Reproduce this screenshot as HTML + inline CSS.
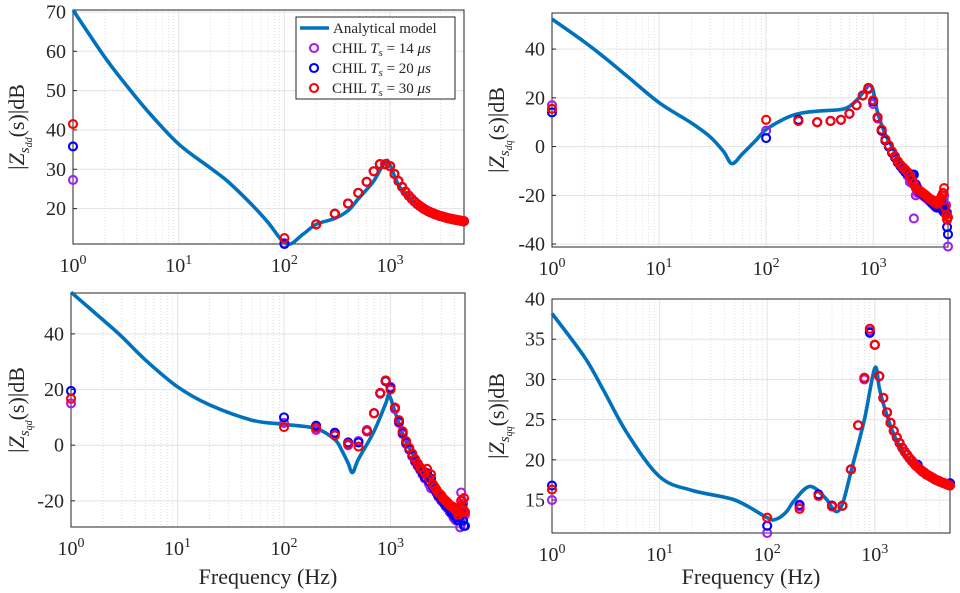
<!DOCTYPE html>
<html><head><meta charset="utf-8"><style>
html,body{margin:0;padding:0;background:#fff;}
svg{display:block;font-family:"Liberation Serif",serif;}
</style></head><body>
<svg id="fig" width="960" height="593" viewBox="0 0 960 593" xmlns="http://www.w3.org/2000/svg"></svg>
<script>
const freqs=[1,100,200,300,400,500,600,700,800,900,1000,1100,1200,1300,1400,1500,1600,1700,1800,1900,2000,2100,2200,2300,2400,2500,2600,2700,2800,2900,3000,3100,3200,3300,3400,3500,3600,3700,3800,3900,4000,4100,4200,4300,4400,4500,4600,4700,4800,4900,5000];
const xTickExps=[0,1,2,3];
// dd
const ddModelF=[1,2,3,5,10,20,30,50,70,105,150,200,300,400,500,700,900,1000,1200,1500,2000,3000,5000];
const ddModelDb=[70.5,58.5,52.3,45,36.4,30.3,26.6,20.8,16.5,11,13.5,16,17.5,19.5,22.5,27,32,31,26,23,20.3,18.1,16.8];
const ddRed=[41.5,12.5,16,18.7,21.3,24,26.8,29.5,31.3,31.3,30.8,28.8,27,25.5,24.3,23.3,22.5,21.8,21.2,20.7,20.3,19.9,19.6,19.3,19.1,18.9,18.7,18.5,18.4,18.2,18.1,18.0,17.9,17.8,17.7,17.6,17.5,17.45,17.4,17.3,17.25,17.2,17.15,17.1,17.05,17.0,16.95,16.9,16.85,16.8,16.8];
const ddBlue=[35.8,11.0,16,18.7,21.3,24,26.8,29.5,31.3,31.3,30.8,28.8,27,25.5,24.3,23.3,22.5,21.8,21.2,20.7,20.3,19.9,19.6,19.3,19.1,18.9,18.7,18.5,18.4,18.2,18.1,18.0,17.9,17.8,17.7,17.6,17.5,17.45,17.4,17.3,17.25,17.2,17.15,17.1,17.05,17.0,16.95,16.9,16.85,16.8,16.8];
const ddPurple=[27.3,11.2,16,18.7,21.3,24,26.8,29.5,31.3,31.3,30.8,28.8,27,25.5,24.3,23.3,22.5,21.8,21.2,20.7,20.3,19.9,19.6,19.3,19.1,18.9,18.7,18.5,18.4,18.2,18.1,18.0,17.9,17.8,17.7,17.6,17.5,17.45,17.4,17.3,17.25,17.2,17.15,17.1,17.05,17.0,16.95,16.9,16.85,16.8,16.8];
const ddTicks=[20,30,40,50,60,70];
// dq
const dqModelF=[1,2,3,5,10,20,30,40,48,60,80,100,150,200,300,500,600,700,800,900,950,1000,1100,1300,1500,2000,3000,4000,5000];
const dqModelDb=[52.3,43,37,29,18,9.7,4,-2,-7,-3,2.5,7,11.5,13.5,14.5,15.2,16.5,19,22,25,25,23,14,5,0,-10,-19,-23,-25];
const dqRed=[15.5,11,10.5,10,10.5,11,13.5,17,21,24,19,12,7,3,0.5,-2,-4,-6,-7.5,-8.5,-9.5,-10.5,-12,-13.5,-15,-17,-17.5,-18,-18.5,-19,-19.5,-20,-20.5,-21,-21.5,-22,-22,-22.5,-23,-23.5,-23,-22.5,-22,-21,-20,-19,-17,-25,-28,-30,-29];
const dqBlue=[14,3.5,11,10,10.5,11,13.5,17,21,24,18.5,12,6.5,2.5,0,-2.5,-4.5,-6.5,-8,-9,-10.5,-11,-12,-11.5,-11.5,-15.5,-17,-18.5,-19,-19.5,-20,-20.5,-21,-21.5,-22,-23,-23.5,-24,-24.5,-25,-25,-24,-23,-22.5,-24,-26,-27,-25,-27,-33,-36];
const dqPurple=[17,6.5,10.5,10,10.5,11,13.5,17,21,23.5,17.5,11.5,6.5,2.5,0,-2.5,-4.5,-6.5,-8,-9.5,-10.5,-12,-14.5,-15,-29.5,-20,-19,-18.5,-19,-20,-20.5,-21,-21.5,-22,-22.5,-23,-23.5,-24,-24.5,-24,-23.5,-23,-24,-25,-26,-22,-20,-27,-24,-27,-41];
const dqTicks=[-40,-20,0,20,40];
// qd
const qdModelF=[1,2,3,5,10,20,50,100,200,300,350,400,440,500,700,900,970,1100,1300,1500,2000,3000,4000,5000];
const qdModelDb=[55,45,39,30.6,21,14.5,9,7.5,6,2,-2,-6.5,-9.8,-5,5,15,18,12,4,-1,-9,-17,-23,-27];
const qdRed=[16.7,6.5,6.3,3.5,0.5,-0.5,5,11.5,18.8,23.3,20,13.5,9,5,1.5,-1,-3,-5,-6.5,-8,-9,-10,-8.5,-12,-10.5,-14,-15,-16,-17,-17.5,-18,-19,-19.5,-20,-20.5,-21,-21.5,-22,-22,-22.5,-23,-23.5,-24,-25,-24,-22,-20,-24,-23,-19,-24];
const qdBlue=[19.5,10,7,4.5,1,1,5,11.5,18.8,23,20.5,13.5,8.5,4.5,1,-1.5,-3.5,-5.5,-7,-8.5,-10,-11.5,-10,-13,-12,-15,-16,-17,-18,-18.5,-19.5,-20,-21,-21.5,-22,-22.5,-23,-24,-24.5,-25,-25.5,-26,-25,-27,-26,-25,-24,-22,-27,-29,-29];
const qdPurple=[15,8,5.5,4,0,1.5,5.5,11.5,18.5,23,21,13,8,4,0.5,-1.5,-4,-6,-7.5,-9,-10.5,-12,-11,-14,-15.5,-15,-16,-17,-18.5,-19,-20,-20.5,-21,-22,-22.5,-23,-24,-24.5,-25,-26,-26.5,-27,-26,-25,-27,-29.5,-17,-20,-21,-24,-25];
const qdTicks=[-20,0,20,40];
// qq
const qqModelF=[1,2,3,5,10,20,50,100,120,150,180,250,350,430,500,600,800,1000,1100,1200,1500,2000,3000,5000];
const qqModelDb=[38.2,32.8,28.7,23.3,17.9,16.2,15,12.8,12.6,13.5,15,16.7,15.2,13.6,14.5,18.5,25,31.4,29,27,23.2,20.3,18.5,16.9];
const qqRed=[16.3,12.8,13.9,15.5,14.2,14.3,18.8,24.3,30.2,36.3,34.3,30.4,27.7,25.9,24.6,23.6,22.8,22.1,21.5,21.0,20.6,20.2,19.9,19.6,19.3,19.1,18.9,18.7,18.5,18.4,18.2,18.1,18.0,17.9,17.8,17.7,17.6,17.5,17.45,17.4,17.3,17.25,17.2,17.15,17.1,17.05,17.0,16.95,16.9,16.85,16.8];
const qqBlue=[16.8,11.8,14.4,15.7,14.3,14.3,18.8,24.3,30.2,35.8,34.3,30.4,27.7,25.9,24.6,23.6,22.8,22.1,21.5,21.0,20.6,20.2,19.9,19.6,19.3,19.4,18.9,18.7,18.5,18.4,18.2,18.1,18.0,17.9,17.8,17.7,17.6,17.5,17.45,17.4,17.3,17.25,17.2,17.15,17.1,17.05,17.0,16.95,16.9,17.0,17.1];
const qqPurple=[15,10.9,14.2,15.6,14.3,14.3,18.8,24.3,30.0,36.0,34.3,30.4,27.7,25.9,24.6,23.6,22.8,22.1,21.5,21.0,20.6,20.2,19.9,19.6,19.3,19.1,18.9,18.7,18.5,18.4,18.2,18.1,18.0,17.9,17.8,17.7,17.6,17.5,17.45,17.4,17.3,17.25,17.2,17.15,17.1,17.05,17.0,16.95,16.9,16.85,16.8];
const qqTicks=[15,20,25,30,35,40];

const NS="http://www.w3.org/2000/svg";
const svg=document.getElementById('fig');
function mk(tag,attrs,parent){const e=document.createElementNS(NS,tag);for(const k in attrs)e.setAttribute(k,attrs[k]);(parent||svg).appendChild(e);return e;}
const COL={purple:'#a020f0',blue:'#0000ff',red:'#ff0000',line:'#0072bd'};

const panels=[
 {key:'dd',x0:73,x1:464,top:10,bot:244,ymin:11,ymax:70.5,ticks:ddTicks,mf:ddModelF,md:ddModelDb,r:ddRed,b:ddBlue,p:ddPurple,lx:24,xlabel:false,legend:true},
 {key:'dq',x0:552,x1:948,top:13,bot:247,ymin:-41.2,ymax:54.8,ticks:dqTicks,mf:dqModelF,md:dqModelDb,r:dqRed,b:dqBlue,p:dqPurple,lx:504,xlabel:false},
 {key:'qd',x0:71,x1:465,top:293,bot:527,ymin:-29.4,ymax:54.7,ticks:qdTicks,mf:qdModelF,md:qdModelDb,r:qdRed,b:qdBlue,p:qdPurple,lx:24,xlabel:true},
 {key:'qq',x0:552,x1:950,top:299,bot:533,ymin:10.9,ymax:40,ticks:qqTicks,mf:qqModelF,md:qqModelDb,r:qqRed,b:qqBlue,p:qqPurple,lx:504,xlabel:true}
];
const LMAX=Math.log10(5000);

panels.forEach(P=>{
 const g=mk('g',{});
 
 
 const xs=f=>P.x0+Math.log10(f)/LMAX*(P.x1-P.x0);
 const ys=v=>P.bot-(v-P.ymin)/(P.ymax-P.ymin)*(P.bot-P.top);
 for(let d=0;d<4;d++)for(let m=2;m<=9;m++){const f=m*Math.pow(10,d);if(f>5000)continue;const x=xs(f);
  const l=mk('line',{x1:x,x2:x,y1:P.top,y2:P.bot,stroke:'#d0d0d0','stroke-width':0.7,'stroke-dasharray':'1,2'},g);
  
  }
 xTickExps.forEach(e=>{const x=xs(Math.pow(10,e));
  const l=mk('line',{x1:x,x2:x,y1:P.top,y2:P.bot,stroke:'#e3e3e3','stroke-width':1},g);
  
  
  const t=mk('text',{x:x,y:P.bot+28,'font-size':20,'text-anchor':'middle',fill:'#262626'},g);
  
  
  t.appendChild(document.createTextNode('10'));
  const s=mk('tspan',{'font-size':14,dy:-8},t);s.textContent=String(e);
 });
 P.ticks.forEach(v=>{const y=ys(v);
  const l=mk('line',{x1:P.x0,x2:P.x1,y1:y,y2:y,stroke:'#e3e3e3','stroke-width':1},g);
  
  
  const tk=mk('line',{x1:P.x0,x2:P.x0+4,y1:y,y2:y,stroke:'#262626','stroke-width':1},g);
  
  
  const t=mk('text',{x:P.x0-7,y:y+6.5,'font-size':20,'text-anchor':'end',fill:'#262626'},g);
  
  
  t.textContent=String(v);
 });
 const box=mk('rect',{x:P.x0,y:P.top,width:P.x1-P.x0,height:P.bot-P.top,fill:'none',stroke:'#262626','stroke-width':1},g);
 
 
 const pts=P.mf.map((f,i)=>[xs(f),ys(P.md[i])]);
 let d='M'+pts[0][0].toFixed(1)+','+pts[0][1].toFixed(1);
 for(let i=0;i<pts.length-1;i++){const p0=pts[Math.max(0,i-1)],p1=pts[i],p2=pts[i+1],p3=pts[Math.min(pts.length-1,i+2)];
  const c1=[p1[0]+(p2[0]-p0[0])/6,p1[1]+(p2[1]-p0[1])/6],c2=[p2[0]-(p3[0]-p1[0])/6,p2[1]-(p3[1]-p1[1])/6];
  d+=' C'+c1.map(n=>n.toFixed(1)).join(',')+' '+c2.map(n=>n.toFixed(1)).join(',')+' '+p2[0].toFixed(1)+','+p2[1].toFixed(1);}
 const path=mk('path',{d:d,fill:'none',stroke:COL.line,'stroke-width':3.6,'stroke-linejoin':'round'},g);
 
 
 [['purple',P.p,'chil-14us'],['blue',P.b,'chil-20us'],['red',P.r,'chil-30us']].forEach(([c,arr,nm])=>{
  arr.forEach((v,i)=>{const m=mk('circle',{cx:xs(freqs[i]),cy:ys(v),r:4,fill:'none',stroke:COL[c],'stroke-width':2.1},g);
   
   });
 });
 const cy=(P.top+P.bot)/2;
 const yl=mk('text',{x:0,y:0,'font-size':22,'text-anchor':'middle',fill:'#262626',transform:'translate('+P.lx+','+cy+') rotate(-90)'},g);
 
 
 yl.appendChild(document.createTextNode('|'));
 const z=mk('tspan',{'font-style':'italic'},yl);z.textContent='Z';
 const s1=mk('tspan',{'font-style':'italic','font-size':15,dy:5},yl);s1.textContent='s';
 const s2=mk('tspan',{'font-style':'italic','font-size':10,dy:3},yl);s2.textContent=P.key;
 const s3=mk('tspan',{dy:-8},yl);s3.textContent='(s)|dB';
 if(P.xlabel){const xl=mk('text',{x:(P.x0+P.x1)/2,y:584,'font-size':22,'text-anchor':'middle',fill:'#262626'},g);
  
  
  xl.textContent='Frequency (Hz)';}
 if(P.legend){
  const lg=mk('g',{},g);
  
  
  mk('rect',{x:296,y:17,width:159,height:82,fill:'#fff',stroke:'#262626','stroke-width':1},lg);
  const ll=mk('line',{x1:300,x2:329,y1:28,y2:28,stroke:COL.line,'stroke-width':3.6},lg);
  
  
  const t0=mk('text',{x:333,y:33,'font-size':15,fill:'#262626'},lg);t0.textContent='Analytical model';
  [['purple','14',48],['blue','20',68],['red','30',88]].forEach(([c,ts,y])=>{
   const m=mk('circle',{cx:314,cy:y,r:4,fill:'none',stroke:COL[c],'stroke-width':2.1},lg);
   
   
   const t=mk('text',{x:332,y:y+5,'font-size':15,fill:'#262626'},lg);
   
   
   t.appendChild(document.createTextNode('CHIL '));
   const a=mk('tspan',{'font-style':'italic'},t);a.textContent='T';
   const b=mk('tspan',{'font-style':'italic','font-size':11,dy:3},t);b.textContent='s';
   const c2=mk('tspan',{dy:-3},t);c2.textContent=' = '+ts+' ';
   const u=mk('tspan',{'font-style':'italic'},t);u.textContent='μs';
  });
 }
});
</script>
</body></html>
